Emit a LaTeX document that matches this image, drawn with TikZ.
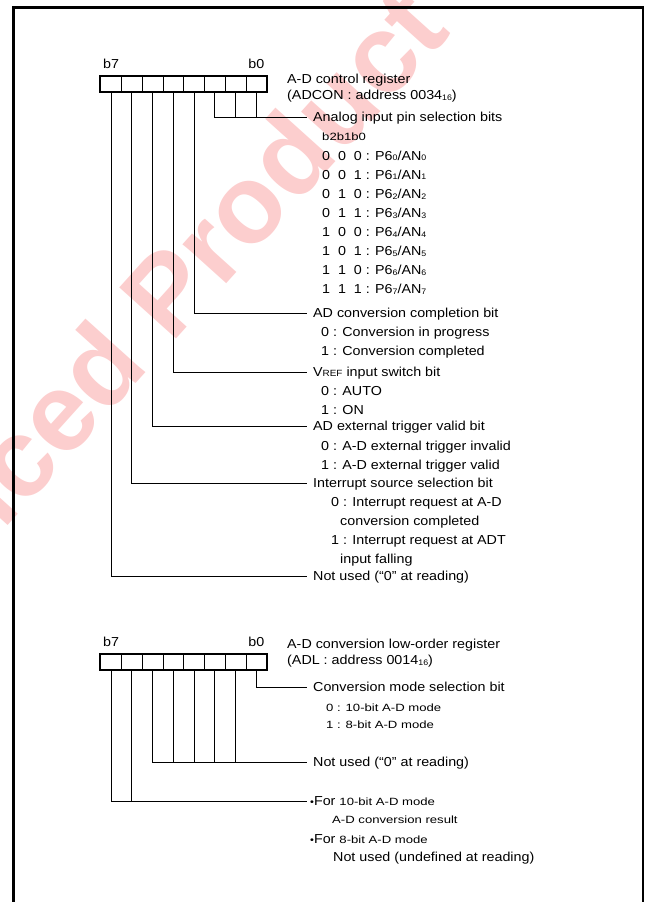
\documentclass[tikz,border=0pt]{standalone}
\usepackage{fontspec}
\setmainfont{Liberation Sans}[FakeStretch=1.1]
\newfontfamily\smallsf{Liberation Sans}[FakeStretch=1.25]
\newfontfamily\wmsf{Liberation Sans}
\usetikzlibrary{positioning}
\definecolor{wmred}{RGB}{252,206,206}
\newcommand\mainsz{\fontsize{13}{16}\selectfont}
\newcommand\smsz{\smallsf\fontsize{10.5}{12}\selectfont}
\newcommand\subn[1]{\raisebox{-0.8pt}{\fontsize{8}{8}\selectfont #1}}
\newcommand\subr[1]{{\fontsize{9}{9}\selectfont #1}}
\newcommand\dotfor{{\fontsize{10}{10}\selectfont •}For}
\tikzset{
  cell/.style={rectangle, draw, line width=0.8pt, minimum width=20.75pt,
    minimum height=15.5pt, inner sep=0pt},
  regframe/.style={draw, line width=2pt},
  lead/.style={line width=1pt},
  frame/.style={line width=2.5pt},
  bitno/.style={inner sep=0pt, font=\mainsz},
  ttl/.style={anchor=west, inner xsep=6pt, inner ysep=0pt, text height=10pt,
    text depth=2pt, font=\mainsz},
  opt/.style={anchor=west, inner sep=0pt, text height=10pt, text depth=2pt, font=\mainsz},
  sml/.style={anchor=west, inner sep=0pt, text height=8pt, text depth=2pt, font=\smsz},
  hdr/.style={anchor=west, inner sep=0pt, align=left, font=\mainsz},
  wmark/.style={font=\wmsf\bfseries\fontsize{111}{111}\selectfont, text=wmred,
    inner sep=0pt, anchor=base west, rotate=48}
}
\begin{document}
\begin{tikzpicture}[x=1pt, y=-1pt]
  \useasboundingbox (0,0) rectangle (646,902);
  % watermark
  \begin{scope}
    \clip (0,0) rectangle (646,902);
    \node[wmark] (wm) at (-22.5,559.7) {nced Product};
  \end{scope}
  % outer frame, open at the bottom
  \draw[frame] (13.5,902) |- (643,7.5) -- (643,902);

  % ADCON
  \foreach \i in {0,...,7}
    \node[cell] (ra\i) at ({111.075+20.75*(7-\i)}, 84.25) {};
  \draw[regframe] (ra7.north west) rectangle (ra0.south east);
  \node[bitno, above=7pt of ra7] (ra7t) {b7};
  \node[bitno, above=7pt of ra0] (ra0t) {b0};
  \node[hdr] (adcon) at (287,88) {A-D control register\\(ADCON : address 0034\subn{16})};

  \node[ttl] (anlg) at (307,117) {Analog input pin selection bits};
  \node[sml] (bhd) at (322,137) {b2b1b0};
  \foreach \a/\b/\c [count=\n from 0] in {0/0/0,0/0/1,0/1/0,0/1/1,1/0/0,1/0/1,1/1/0,1/1/1}
    \node[opt] (pin\n) at (322,{156+19.1*\n}) {\a\ \ \b\ \ \c{} : P6\subn{\n}/AN\subn{\n}};
  \draw[lead] (ra2.south) |- (anlg.west);
  \draw[lead] (ra1.south) -- (ra1.south |- anlg.west);
  \draw[lead] (ra0.south) -- (ra0.south |- anlg.west);

  \node[ttl] (cmpl) at (307,313) {AD conversion completion bit};
  \node[opt] (cmpl0) at (321,332.7) {0 : Conversion in progress};
  \node[opt] (cmpl1) at (321,351.7) {1 : Conversion completed};
  \draw[lead] (ra3.south) |- (cmpl.west);

  \node[ttl] (vref) at (307,372.7) {V\subr{REF} input switch bit};
  \node[opt] (vref0) at (321,391.7) {0 : AUTO};
  \node[opt] (vref1) at (321,410.7) {1 : ON};
  \draw[lead] (ra4.south) |- (vref.west);

  \node[ttl] (trig) at (307,426.5) {AD external trigger valid bit};
  \node[opt] (trig0) at (321,446) {0 : A-D external trigger invalid};
  \node[opt] (trig1) at (321,465) {1 : A-D external trigger valid};
  \draw[lead] (ra5.south) |- (trig.west);

  \node[ttl] (intr) at (307,483.3) {Interrupt source selection bit};
  \node[opt] (intr0) at (331,502) {0 : Interrupt request at A-D};
  \node[opt] (intr0b) at (340,521) {conversion completed};
  \node[opt] (intr1) at (331,540.7) {1 : Interrupt request at ADT};
  \node[opt] (intr1b) at (340,559.3) {input falling};
  \draw[lead] (ra6.south) |- (intr.west);

  \node[ttl] (nua) at (307,576.7) {Not used (“0” at reading)};
  \draw[lead] (ra7.south) |- (nua.west);

  % ADL
  \foreach \i in {0,...,7}
    \node[cell] (rb\i) at ({111.075+20.75*(7-\i)}, 662) {};
  \draw[regframe] (rb7.north west) rectangle (rb0.south east);
  \node[bitno, above=7pt of rb7] (rb7t) {b7};
  \node[bitno, above=7pt of rb0] (rb0t) {b0};
  \node[hdr] (adl) at (287,653) {A-D conversion low-order register\\(ADL : address 0014\subn{16})};

  \node[ttl] (mode) at (307,687) {Conversion mode selection bit};
  \node[sml] (mode0) at (326,708) {0 : 10-bit A-D mode};
  \node[sml] (mode1) at (326,725) {1 : 8-bit A-D mode};
  \draw[lead] (rb0.south) |- (mode.west);

  \node[ttl] (nub) at (307,762) {Not used (“0” at reading)};
  \draw[lead] (rb5.south) |- (nub.west);
  \foreach \i in {1,...,4}
    \draw[lead] (rb\i.south) -- (rb\i.south |- nub.west);

  \node[ttl, inner xsep=3pt] (res) at (307,801) {\dotfor{} {\smsz 10-bit A-D mode}};
  \node[sml] (res0) at (332,820) {A-D conversion result};
  \node[opt] (res1) at (310,839) {\dotfor{} {\smsz 8-bit A-D mode}};
  \node[opt] (res1b) at (333,857) {Not used (undefined at reading)};
  \draw[lead] (rb7.south) |- (res.west);
  \draw[lead] (rb6.south) -- (rb6.south |- res.west);
\end{tikzpicture}
\end{document}
